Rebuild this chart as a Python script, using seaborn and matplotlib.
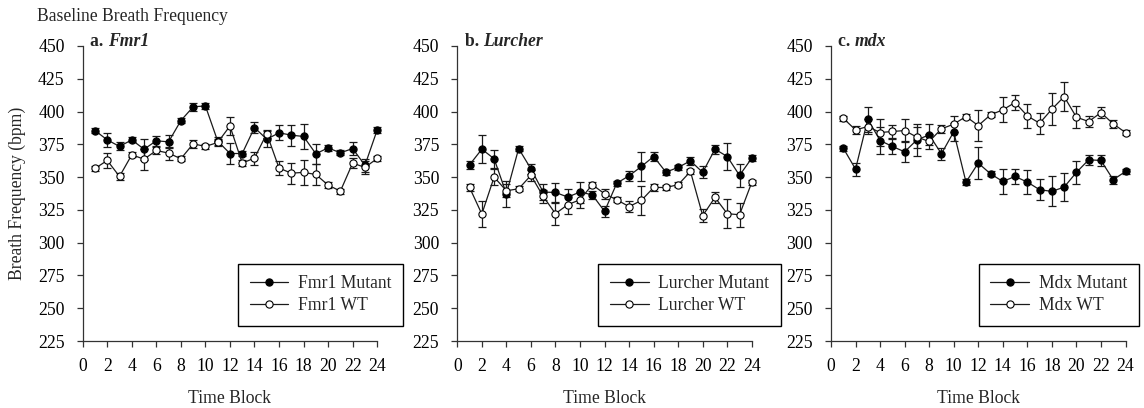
import matplotlib
matplotlib.use("Agg")
import matplotlib.pyplot as plt
import seaborn as sns
import pandas as pd

time_blocks = list(range(1, 25))

fmr1_mutant = [385.5, 378.4, 373.4, 378.4, 371.3, 377.7, 376.9, 393.1, 403.6, 404.3, 377.5, 368.0,
               368.0, 387.8, 378.9, 383.8, 382.0, 381.0, 367.8, 372.3, 368.5, 371.8, 359.0, 386.0]
fmr1_mutant_sem = [2, 5.5, 3, 2, 8, 4, 5, 2, 3, 2, 3, 8, 2, 4.5, 6, 5.7, 8, 9.5, 7.5, 2.5, 2, 5, 5, 2]
fmr1_wt = [356.6, 362.7, 350.5, 367.0, 363.7, 370.3, 368.3, 364.0, 375.4, 373.4, 376.4, 389.0,
           360.7, 364.5, 383.2, 356.9, 353.0, 353.6, 352.0, 343.9, 339.3, 360.7, 357.4, 364.2]
fmr1_wt_sem = [2, 6, 3, 2, 8, 3, 5, 2, 3, 2, 3, 7, 2, 5, 3, 5.5, 8, 9.5, 8, 2.5, 2, 4, 5, 2]

lurcher_mutant = [359.4, 371.3, 364.0, 337.3, 371.8, 356.3, 338.6, 338.3, 334.8, 338.6, 336.5, 323.9,
                  345.4, 351.0, 358.1, 365.7, 353.8, 357.4, 362.4, 353.6, 371.3, 365.7, 351.3, 364.5]
lurcher_mutant_sem = [3, 10.5, 7, 10, 2, 4, 6, 7, 6, 8, 3, 4, 2, 4, 11, 3.5, 2, 2, 3, 4.5, 3.5, 10.5, 9, 2]
lurcher_wt = [342.1, 321.8, 350.0, 339.6, 341.1, 351.3, 335.3, 322.1, 329.0, 332.7, 344.2, 337.3,
              332.7, 327.5, 332.2, 342.1, 342.1, 344.2, 354.3, 320.6, 334.5, 322.1, 321.3, 346.0]
lurcher_wt_sem = [3, 10, 6, 5, 2, 4, 5, 8.5, 7, 6, 2, 4, 2, 4, 11, 3, 2, 2, 2, 5, 4, 11, 9, 2]

mdx_mutant = [372.1, 356.1, 394.2, 377.9, 373.4, 369.3, 378.4, 382.2, 367.8, 384.5, 346.2, 360.7,
              352.5, 346.7, 350.5, 346.2, 340.4, 339.1, 342.4, 353.6, 363.2, 362.7, 348.0, 354.3]
mdx_mutant_sem = [2, 5, 9.5, 10, 6, 8, 12, 8, 4.5, 7, 2, 12, 2, 9.5, 6, 9, 8, 11.5, 10.5, 8.5, 4, 4, 3, 2]
mdx_wt = [394.9, 386.0, 388.6, 384.0, 384.8, 385.5, 380.5, 377.2, 386.8, 390.4, 396.2, 389.3,
          397.5, 401.3, 406.9, 396.7, 391.1, 401.8, 411.4, 395.7, 392.4, 399.2, 390.6, 384.0]
mdx_wt_sem = [2, 3, 6, 10, 5, 9, 8, 6, 3, 6, 2, 12, 2, 9.5, 6, 9, 8, 12, 11, 8.5, 4.5, 4, 3, 2]

panel_letters = ["a.", "b.", "c."]
panel_genes = ["Fmr1", "Lurcher", "mdx"]
legend_names = ["Fmr1", "Lurcher", "Mdx"]
y_ticks = list(range(225, 451, 25))
x_ticks = list(range(0, 25, 2))

sns.set_theme(style="ticks")
plt.rcParams["font.family"] = ["Liberation Serif", "DejaVu Serif"]
FS = 12.7

fig = plt.figure(figsize=(11.44, 4.08), dpi=100)
W = 1144.0
H = 408.0
lefts = [82.7, 457.3, 831.0]
ax_w = 294.5
ax_top = 46.0
ax_bot = 341.0

series = [
    (fmr1_mutant, fmr1_mutant_sem, fmr1_wt, fmr1_wt_sem),
    (lurcher_mutant, lurcher_mutant_sem, lurcher_wt, lurcher_wt_sem),
    (mdx_mutant, mdx_mutant_sem, mdx_wt, mdx_wt_sem),
]
legend_x = [0.528, 0.479, 0.502]

line_c = "#1a1a1a"
for i in range(3):
    ax = fig.add_axes([lefts[i] / W, 1 - ax_bot / H, ax_w / W, (ax_bot - ax_top) / H])
    mut, mut_e, wt, wt_e = series[i]
    df = pd.DataFrame({"t": time_blocks * 2,
                       "v": mut + wt,
                       "g": ["Mutant"] * 24 + ["WT"] * 24})
    ax.errorbar(time_blocks, mut, yerr=mut_e, fmt="none", ecolor=line_c, elinewidth=0.9,
                capsize=3.2, capthick=0.9, zorder=2, clip_on=False)
    ax.errorbar(time_blocks, wt, yerr=wt_e, fmt="none", ecolor=line_c, elinewidth=0.9,
                capsize=3.2, capthick=0.9, zorder=2, clip_on=False)
    sns.lineplot(data=df[df.g == "Mutant"], x="t", y="v", ax=ax, color=line_c, lw=0.9,
                 marker="o", markersize=5.2, markerfacecolor="black", markeredgecolor="black",
                 markeredgewidth=0.8, zorder=3, clip_on=False,
                 label=f"{legend_names[i]} Mutant")
    sns.lineplot(data=df[df.g == "WT"], x="t", y="v", ax=ax, color=line_c, lw=0.9,
                 marker="o", markersize=5.2, markerfacecolor="white", markeredgecolor="black",
                 markeredgewidth=0.8, zorder=4, clip_on=False,
                 label=f"{legend_names[i]} WT")
    ax.set_xlim(0, 24)
    ax.set_ylim(225, 450)
    ax.set_xticks(x_ticks)
    ax.set_yticks(y_ticks)
    ax.tick_params(direction="out", length=4, width=0.9, colors="#333333",
                   labelsize=FS, labelcolor="black")
    ax.tick_params(axis="y", pad=9)
    ax.tick_params(axis="x", pad=8)
    for s in ["top", "right"]:
        ax.spines[s].set_visible(False)
    for s in ["left", "bottom"]:
        ax.spines[s].set_color("#333333")
        ax.spines[s].set_linewidth(0.9)
    ax.set_xlabel("Time Block", fontsize=FS, labelpad=11)
    ax.set_ylabel("Breath Frequency (bpm)" if i == 0 else "", fontsize=FS, labelpad=9)
    ax.grid(False)
    t1 = ax.text(0.025, 1.0, panel_letters[i] + " ", transform=ax.transAxes,
                 fontsize=FS, fontweight="bold", va="baseline", ha="left")
    ax.annotate(panel_genes[i], xy=(1, 0), xycoords=t1, va="bottom", ha="left",
                fontsize=FS, fontweight="bold", fontstyle="italic")
    leg = ax.legend(loc="lower left", bbox_to_anchor=(legend_x[i], 0.051), frameon=True,
                    fancybox=False, edgecolor="black", framealpha=1, borderaxespad=0,
                    handlelength=2.2, handletextpad=0.55, borderpad=0.65, labelspacing=0.3,
                    fontsize=FS)
    leg.get_frame().set_linewidth(1.0)
    leg.set_clip_on(False)

fig.text(37 / W, 1 - 21 / H, "Baseline Breath Frequency", fontsize=FS, va="baseline", ha="left")

fig.savefig("out.png", dpi=100)
